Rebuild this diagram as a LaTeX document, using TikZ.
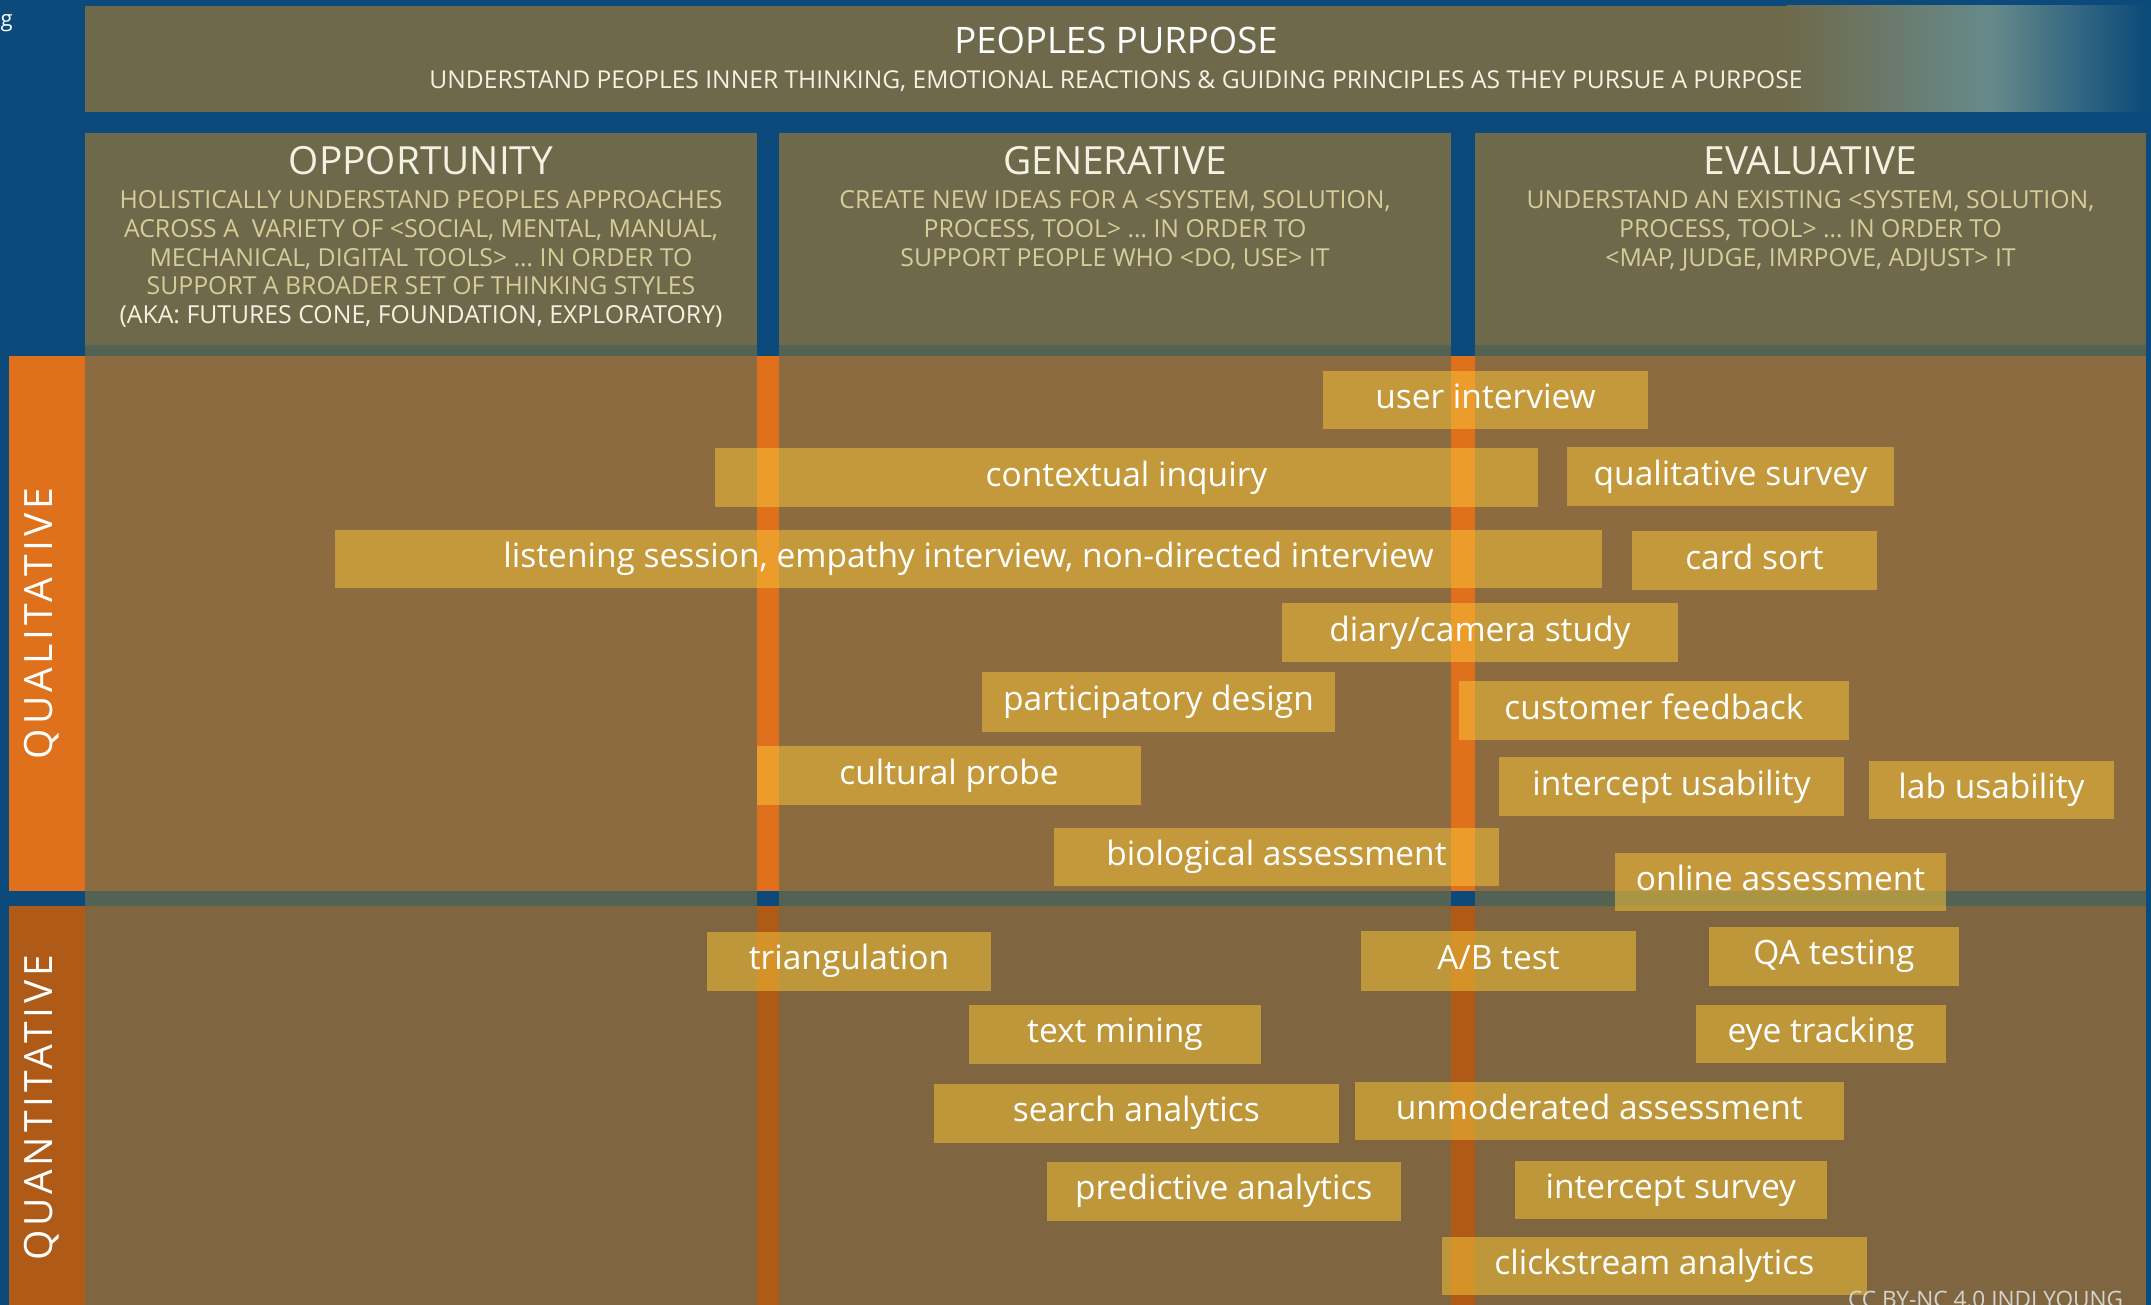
\documentclass[tikz,border=0pt]{standalone}
\usepackage{fontspec}
\setmainfont{Open Sans}
\newfontfamily\widefont[LetterSpace=10]{Open Sans}
\definecolor{bgblue}{RGB}{11,74,122}
\definecolor{olivebox}{RGB}{111,105,76}
\definecolor{tealgray}{RGB}{102,138,138}
\definecolor{stripc}{RGB}{84,98,83}
\definecolor{qualbody}{RGB}{139,107,63}
\definecolor{quantbody}{RGB}{127,102,64}
\definecolor{orangebar}{RGB}{223,113,29}
\definecolor{darkorange}{RGB}{175,91,23}
\definecolor{itemgold}{RGB}{249,197,56}
\definecolor{headtext}{RGB}{243,241,225}
\definecolor{desctext}{RGB}{213,205,153}
\definecolor{footgray}{RGB}{212,212,206}
\tikzset{
  every node/.style={inner sep=0pt, outer sep=0pt},
  item/.style={rectangle, fill=itemgold, fill opacity=0.52, text opacity=1, text=white,
    text height=17pt, text depth=0pt, font=\fontsize{33.5}{40}\selectfont},
  heading/.style={anchor=base, text=headtext, font=\fontsize{38.8}{44}\selectfont},
  desc/.style={anchor=base, text=desctext, font=\fontsize{24.8}{28}\selectfont},
  sidelabel/.style={anchor=base, rotate=90, text=white, font=\widefont\fontsize{39}{44}\selectfont}
}
\begin{document}
\begin{tikzpicture}[x=1pt,y=-1pt]
\useasboundingbox (0,0) rectangle (2151,1305);
\fill[bgblue] (0,0) rectangle (2151,1305);
% top box
\fill[olivebox] (85,6) rectangle (1787,112);
\shade[left color=olivebox, right color=tealgray] (1786.5,6) rectangle (1991,112);
\shade[left color=tealgray, right color=bgblue] (1990.5,6) rectangle (2147,112);
% columns
\foreach \xl/\xr in {85/757, 779/1451, 1475/2146} {
  \fill[olivebox] (\xl,133) rectangle (\xr,345);
  \fill[stripc] (\xl,345) rectangle (\xr,356);
  \fill[qualbody] (\xl,356) rectangle (\xr,891);
  \fill[stripc] (\xl,891) rectangle (\xr,906);
  \fill[quantbody] (\xl,906) rectangle (\xr,1305);
}
% orange bands
\foreach \a/\b in {9/85, 757/779, 1451/1475} {
  \fill[orangebar] (\a,356) rectangle (\b,891);
  \fill[darkorange] (\a,906) rectangle (\b,1305);
}
% fragment at top left
\node[anchor=base east, text=white, font=\fontsize{22}{26}\selectfont] (gfrag) at (12.6,27) {g};
% title
\node[anchor=base, text=white, font=\fontsize{36.5}{42}\selectfont] (title) at (1116,54) {PEOPLES PURPOSE};
\node[anchor=base, text=headtext, font=\fontsize{24.6}{28}\selectfont] (subtitle) at (1116,88.3)
  {UNDERSTAND PEOPLES INNER THINKING, EMOTIONAL REACTIONS \& GUIDING PRINCIPLES AS THEY PURSUE A PURPOSE};
% headings
\node[heading] (opp) at (421,175) {OPPORTUNITY};
\node[heading] (gen) at (1115,175) {GENERATIVE};
\node[heading] (eva) at (1810.5,175) {EVALUATIVE};
% descriptions
\node[desc] (oppa) at (421,208.3) {HOLISTICALLY UNDERSTAND PEOPLES APPROACHES};
\node[desc] (oppb) at (421,237.3) {ACROSS A\ \ VARIETY OF <SOCIAL, MENTAL, MANUAL,};
\node[desc] (oppc) at (421,266.3) {MECHANICAL, DIGITAL TOOLS> … IN ORDER TO};
\node[desc] (oppd) at (421,295) {SUPPORT A BROADER SET OF THINKING STYLES};
\node[desc, text=headtext] (oppe) at (421,323.3) {(AKA: FUTURES CONE, FOUNDATION, EXPLORATORY)};
\node[desc] (gena) at (1115,208.3) {CREATE NEW IDEAS FOR A <SYSTEM, SOLUTION,};
\node[desc] (genb) at (1115,237.3) {PROCESS, TOOL> … IN ORDER TO};
\node[desc] (genc) at (1115,266.3) {SUPPORT PEOPLE WHO <DO, USE> IT};
\node[desc] (evaa) at (1810.5,208.3) {UNDERSTAND AN EXISTING <SYSTEM, SOLUTION,};
\node[desc] (evab) at (1810.5,237.3) {PROCESS, TOOL> … IN ORDER TO};
\node[desc] (evac) at (1810.5,266.3) {<MAP, JUDGE, IMRPOVE, ADJUST> IT};
% side labels
\node[sidelabel] (qual) at (52.6,623.4) {QUALITATIVE};
\node[sidelabel] (quant) at (52.6,1107.8) {QUANTITATIVE};
% qualitative items
\node[item, minimum width=325pt, minimum height=57.6pt] (userint) at (1485.5,399.8) {user interview};
\node[item, minimum width=823pt, minimum height=59pt] (context) at (1126.5,477.5) {contextual inquiry};
\node[item, minimum width=327pt, minimum height=59pt] (qualsurv) at (1730.5,476.5) {qualitative survey};
\node[item, minimum width=1267pt, minimum height=57.5pt] (listen) at (968.5,558.8) {listening session, empathy interview, non-directed interview};
\node[item, minimum width=245pt, minimum height=59pt] (cardsort) at (1754.5,560.5) {card sort};
\node[item, minimum width=396pt, minimum height=59pt] (diary) at (1480,632.5) {diary/camera study};
\node[item, minimum width=353pt, minimum height=60pt] (partdes) at (1158.5,702) {participatory design};
\node[item, minimum width=390pt, minimum height=59pt] (custfb) at (1654,710.5) {customer feedback};
\node[item, minimum width=384pt, minimum height=59pt] (cultprobe) at (949,775.5) {cultural probe};
\node[item, minimum width=345pt, minimum height=59pt] (intusab) at (1671.5,786.5) {intercept usability};
\node[item, minimum width=245pt, minimum height=58pt] (labusab) at (1991.5,790) {lab usability};
\node[item, minimum width=445pt, minimum height=58pt] (bioass) at (1276.5,857) {biological assessment};
\node[item, minimum width=331pt, minimum height=58pt] (onlass) at (1780.5,882) {online assessment};
% quantitative items
\node[item, minimum width=284pt, minimum height=58.7pt] (triang) at (849,961.3) {triangulation};
\node[item, minimum width=292pt, minimum height=58.7pt] (textmin) at (1115,1034.3) {text mining};
\node[item, minimum width=404.6pt, minimum height=58.7pt] (search) at (1136.3,1113.3) {search analytics};
\node[item, minimum width=354.3pt, minimum height=58.7pt] (predict) at (1223.8,1191.3) {predictive analytics};
\node[item, minimum width=275pt, minimum height=59.7pt] (abtest) at (1498.5,960.8) {A/B test};
\node[item, minimum width=250pt, minimum height=58.7pt] (qatest) at (1834,956.3) {QA testing};
\node[item, minimum width=250pt, minimum height=57.7pt] (eyetrack) at (1821,1033.8) {eye tracking};
\node[item, minimum width=489.3pt, minimum height=57.7pt] (unmod) at (1599.3,1110.8) {unmoderated assessment};
\node[item, minimum width=311.6pt, minimum height=57.7pt] (intsurv) at (1670.8,1189.8) {intercept survey};
\node[item, minimum width=425.2pt, minimum height=58pt] (click) at (1654.4,1266) {clickstream analytics};
% credit
\node[anchor=base east, text=footgray, font=\fontsize{22.6}{26}\selectfont] (credit) at (2123,1307.7) {CC BY-NC 4.0 INDI YOUNG};
\end{tikzpicture}
\end{document}
